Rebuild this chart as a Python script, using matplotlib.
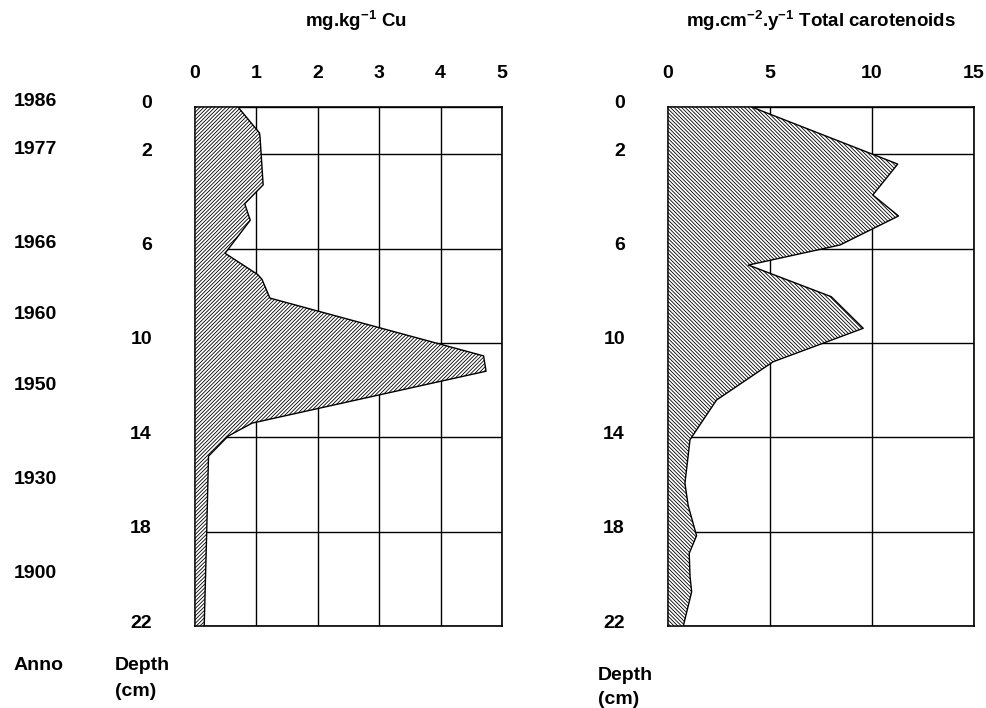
import matplotlib.pyplot as plt
import matplotlib.transforms as mtransforms

plt.rcParams['font.family'] = ['Liberation Sans', 'DejaVu Sans']
plt.rcParams['font.weight'] = 'bold'
plt.rcParams['mathtext.fontset'] = 'custom'
plt.rcParams['mathtext.rm'] = 'Liberation Sans:bold'
plt.rcParams['mathtext.default'] = 'rm'
plt.rcParams['hatch.linewidth'] = 0.6

# Cu profile (mg/kg) vs depth (cm)
cu_depth = [0, 1.1, 1.3, 3.3, 4.1, 4.8, 6.2, 7.1, 7.3, 8.1, 10.55, 11.2, 13.4, 13.95, 14.8, 18.1, 22]
cu_value = [0.70, 1.05, 1.06, 1.11, 0.81, 0.90, 0.49, 1.02, 1.09, 1.22, 4.70, 4.74, 0.93, 0.54, 0.22, 0.19, 0.15]

# total carotenoids (mg/cm2/y) vs depth (cm)
car_depth = [0, 2.42, 3.73, 4.62, 5.85, 6.7, 8.04, 9.38, 10.8, 12.42, 14.1, 15.95, 16.9, 18.17, 18.92, 19.9, 20.55, 22]
car_value = [4.1, 11.26, 10.04, 11.3, 8.43, 3.94, 8.0, 9.57, 5.15, 2.38, 1.08, 0.83, 0.99, 1.40, 1.04, 1.08, 1.16, 0.75]

depth_ticks = [0, 2, 6, 10, 14, 18, 22]
anno_depth = [0, 2, 6, 9, 12, 16, 20]
anno_years = ['1986', '1977', '1966', '1960', '1950', '1930', '1900']

FS = 14

fig = plt.figure(figsize=(9.86, 7.08), dpi=100)
ax1 = fig.add_axes([195 / 986, 1 - 626 / 708, 307 / 986, 519 / 708])
ax2 = fig.add_axes([668 / 986, 1 - 626 / 708, 306 / 986, 519 / 708])

label_shift = mtransforms.ScaledTranslation(0, 0.05, fig.dpi_scale_trans)

def setup(ax, depth, values, xmax, xticks, hatch):
    ax.fill_betweenx(depth, 0, values, facecolor='white', edgecolor='black',
                     hatch=hatch, linewidth=1.0, zorder=3)
    ax.set_xlim(0, xmax)
    ax.set_ylim(22, 0)
    ax.set_xticks(xticks)
    ax.set_yticks(depth_ticks)
    ax.xaxis.tick_top()
    ax.tick_params(axis='x', length=0, pad=18, labelsize=FS)
    ax.tick_params(axis='y', length=0, pad=31, labelsize=FS)
    for lab in ax.get_yticklabels():
        lab.set_transform(lab.get_transform() + label_shift)
    ax.grid(True, color='black', linewidth=1.0)
    ax.set_axisbelow(True)
    for sp in ax.spines.values():
        sp.set_linewidth(1.2)

setup(ax1, cu_depth, cu_value, 5, [0, 1, 2, 3, 4, 5], '/' * 9)
setup(ax2, car_depth, car_value, 15, [0, 5, 10, 15], '\\' * 9)

fig.text(356 / 986, 1 - 21 / 708, r'mg.kg$^{-1}$ Cu', ha='center', va='center', fontsize=13.5)
fig.text(821 / 986, 1 - 21 / 708, r'mg.cm$^{-2}$.y$^{-1}$ Total carotenoids',
         ha='center', va='center', fontsize=13.5)

year_trans = mtransforms.blended_transform_factory(fig.transFigure, ax1.transData) + label_shift
for d, yr in zip(anno_depth, anno_years):
    ax1.text(14 / 986, d, yr, transform=year_trans, ha='left', va='center', fontsize=FS)

fig.text(14 / 986, 1 - 665 / 708, 'Anno', ha='left', va='center', fontsize=FS)
fig.text(115 / 986, 1 - 665 / 708, 'Depth', ha='left', va='center', fontsize=FS)
fig.text(115 / 986, 1 - 692 / 708, '(cm)', ha='left', va='center', fontsize=FS)
fig.text(598 / 986, 1 - 675 / 708, 'Depth', ha='left', va='center', fontsize=FS)
fig.text(598 / 986, 1 - 700 / 708, '(cm)', ha='left', va='center', fontsize=FS)

fig.savefig('out.png', dpi=100)
